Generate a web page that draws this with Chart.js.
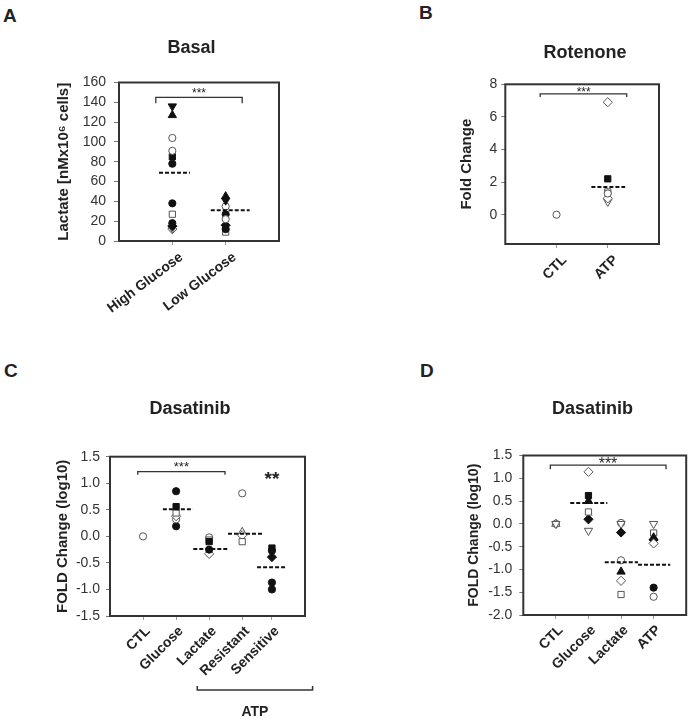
<!DOCTYPE html>
<html>
<head>
<meta charset="utf-8">
<script src="https://cdn.jsdelivr.net/npm/chart.js@4.4.1/dist/chart.umd.min.js"></script>
<style>
  body { margin: 0; background: #fff; }
  #page { position: relative; width: 692px; height: 726px; overflow: hidden; }
  .panel { position: absolute; }
  .letter { position: absolute; font: bold 19px "Liberation Sans", Arial, sans-serif; line-height: 1; color: #222; }
</style>
</head>
<body>
<div id="page">
  <div class="letter" style="left:3px;top:6px">A</div>
  <div class="letter" style="left:419px;top:3px">B</div>
  <div class="letter" style="left:4px;top:361px">C</div>
  <div class="letter" style="left:420px;top:361px">D</div>
  <div class="panel" style="left:0;top:0;width:346px;height:363px"><canvas id="chartA"></canvas></div>
  <div class="panel" style="left:380px;top:0;width:312px;height:363px"><canvas id="chartB"></canvas></div>
  <div class="panel" style="left:0;top:363px;width:346px;height:363px"><canvas id="chartC"></canvas></div>
  <div class="panel" style="left:380px;top:363px;width:312px;height:363px"><canvas id="chartD"></canvas></div>
</div>
<script>
const FONT = '"Liberation Sans", Arial, sans-serif';

// ---- A: Basal lactate ----
const basalLabels = ['High Glucose', 'Low Glucose'];
const basalPos = [1, 2];
const basalTicks = [0, 20, 40, 60, 80, 100, 120, 140, 160];
const basalMeans = [69, 31];
const basalMeanSpan = [[0.75, 1.33], [1.72, 2.45]];
// one series per cell line (marker), one value per condition
const basalFilledDown = [136, 41];
const basalFilledUp = [127, 45];
const basalOpenCircle1 = [104, 35];
const basalOpenCircle2 = [91, 22];
const basalFilledSquare = [85, null];
const basalFilledCircle1 = [78, 27];
const basalFilledCircle2 = [38, 12];
const basalOpenSquare = [27, 9];
const basalFilledCircle3 = [18, null];
const basalFilledDiamond = [15, 16];
const basalOpenDown = [13, null];
const basalOpenDiamond = [12, null];

// ---- B: Rotenone ----
const rotLabels = ['CTL', 'ATP'];
const rotPos = [1, 2];
const rotTicks = [0, 2, 4, 6, 8];
const rotMeans = [null, 1.7];
const rotMeanSpan = [null, [1.68, 2.34]];
const rotOpenCircle = [0, 1.3];
const rotOpenDiamond1 = [null, 6.9];
const rotFilledSquare = [null, 2.2];
const rotOpenSquare = [null, 1.4];
const rotOpenDiamond2 = [null, 1.0];
const rotOpenDown = [null, 0.8];

// ---- C: Dasatinib (ATP resistant / sensitive) ----
const dasCLabels = ['CTL', 'Glucose', 'Lactate', 'Resistant', 'Sensitive'];
const dasCPos = [1, 2, 3, 4, 4.9];
const dasCTicks = [-1.5, -1.0, -0.5, 0, 0.5, 1.0, 1.5];
const dasCMeans = [null, 0.51, -0.24, 0.05, -0.58];
const dasCMeanSpan = [null, [1.6, 2.51], [2.52, 3.58], [3.57, 4.65], [4.45, 5.35]];
const dasCFilledCircle1 = [null, 0.85, -0.25, null, -0.27];
const dasCFilledSquare = [null, 0.56, -0.1, null, -0.22];
const dasCOpenSquare = [null, 0.44, -0.07, -0.1, null];
const dasCOpenDiamond = [null, 0.38, -0.33, 0.02, null];
const dasCOpenCircle = [0, 0.32, -0.02, 0.81, null];
const dasCOpenUp = [null, null, null, 0.08, null];
const dasCFilledCircle2 = [null, 0.19, null, null, -0.87];
const dasCFilledDiamond = [null, null, null, null, -0.39];
const dasCFilledCircle3 = [null, null, null, null, -1.0];

// ---- D: Dasatinib ----
const dasDLabels = ['CTL', 'Glucose', 'Lactate', 'ATP'];
const dasDPos = [1, 2, 3, 4];
const dasDTicks = [-2.0, -1.5, -1.0, -0.5, 0, 0.5, 1.0, 1.5];
const dasDMeans = [null, 0.46, -0.84, -0.9];
const dasDMeanSpan = [null, [1.44, 2.58], [2.5, 3.52], [3.52, 4.51]];
const dasDOpenDiamond = [null, 1.14, -1.25, -0.43];
const dasDFilledSquare = [null, 0.62, null, null];
const dasDFilledUp = [null, 0.5, -1.05, -0.3];
const dasDOpenSquare = [null, 0.26, -1.55, -0.2];
const dasDFilledDiamond = [null, 0.1, -0.19, -0.35];
const dasDOpenDown = [0, -0.15, 0, 0];
const dasDOpenUp = [0, null, null, null];
const dasDOpenCircle = [0, null, 0.02, -1.6];
const dasDOpenCircle2 = [null, null, -0.8, null];
const dasDFilledCircle = [null, null, null, -1.4];

// marker looks
const markers = {
  filledCircle: { pointStyle: 'circle', rotation: 0, fill: true, r: 3.6 },
  openCircle: { pointStyle: 'circle', rotation: 0, fill: false, r: 3.6 },
  filledSquare: { pointStyle: 'rect', rotation: 0, fill: true, r: 4.4 },
  openSquare: { pointStyle: 'rect', rotation: 0, fill: false, r: 4.4 },
  filledUp: { pointStyle: 'triangle', rotation: 0, fill: true, r: 4.8 },
  openUp: { pointStyle: 'triangle', rotation: 0, fill: false, r: 4.8 },
  filledDown: { pointStyle: 'triangle', rotation: 180, fill: true, r: 4.8 },
  openDown: { pointStyle: 'triangle', rotation: 180, fill: false, r: 4.8 },
  filledDiamond: { pointStyle: 'rectRot', rotation: 0, fill: true, r: 4.6 },
  openDiamond: { pointStyle: 'rectRot', rotation: 0, fill: false, r: 4.6 }
};

function seriesDataset(values, pos, kind) {
  const m = markers[kind];
  return {
    data: values.map((v, i) => v == null ? null : { x: pos[i], y: v }).filter(Boolean),
    pointStyle: m.pointStyle,
    rotation: m.rotation,
    pointRadius: m.r,
    backgroundColor: m.fill ? '#111' : '#fff',
    borderColor: m.fill ? '#111' : '#555',
    borderWidth: 1,
    showLine: false
  };
}

function meanDatasets(means, spans) {
  const out = [];
  means.forEach((m, i) => {
    if (m == null) return;
    out.push({
      data: [{ x: spans[i][0], y: m }, { x: spans[i][1], y: m }],
      showLine: true, pointRadius: 0, borderColor: '#111', borderWidth: 2,
      borderDash: [4, 2]
    });
  });
  return out;
}

function bracketDataset(x1, x2, yTop, yEnd) {
  return {
    data: [{ x: x1, y: yEnd }, { x: x1, y: yTop }, { x: x2, y: yTop }, { x: x2, y: yEnd }],
    showLine: true, pointRadius: 0, borderColor: '#333', borderWidth: 1.3
  };
}

// frame, titles, asterisks and the group bracket under panel C
const panelNotes = {
  id: 'panelNotes',
  afterDatasetsDraw(chart, args, opts) {
    const { ctx, chartArea: a, scales: { x, y } } = chart;
    ctx.save();
    ctx.strokeStyle = '#333';
    ctx.lineWidth = 2;
    ctx.strokeRect(a.left, a.top, a.right - a.left, a.bottom - a.top);

    ctx.fillStyle = '#222';
    ctx.textAlign = 'center';
    ctx.textBaseline = 'middle';
    ctx.font = 'bold 18px ' + FONT;
    ctx.fillText(opts.title, opts.titleX, opts.titleY);

    (opts.stars || []).forEach(s => {
      ctx.font = s.font;
      ctx.textBaseline = 'alphabetic';
      ctx.fillText(s.text, x.getPixelForValue(s.x), y.getPixelForValue(s.y) + 0.56 * s.size);
    });

    if (opts.group) {
      const g = opts.group;
      const x1 = x.getPixelForValue(g.x1), x2 = x.getPixelForValue(g.x2);
      const gy = a.bottom + g.offset;
      ctx.lineWidth = 1.5;
      ctx.beginPath();
      ctx.moveTo(x1, gy - 4); ctx.lineTo(x1, gy); ctx.lineTo(x2, gy); ctx.lineTo(x2, gy - 4);
      ctx.stroke();
      ctx.font = 'bold 14px ' + FONT;
      ctx.textBaseline = 'middle';
      ctx.fillText(g.text, (x1 + x2) / 2, gy + g.textOffset);
    }
    ctx.restore();
  }
};

function makeChart(id, p) {
  const datasets = [
    ...meanDatasets(p.means, p.meanSpan),
    bracketDataset(...p.bracket),
    ...p.series.map(s => seriesDataset(s[0], p.pos, s[1]))
  ];
  return new Chart(document.getElementById(id), {
    type: 'scatter',
    data: { datasets },
    options: {
      responsive: true,
      maintainAspectRatio: false,
      animation: false,
      events: [],
      layout: { padding: { top: p.area.top, right: p.area.right, left: 0, bottom: 0 } },
      plugins: {
        legend: { display: false },
        tooltip: { enabled: false },
        panelNotes: p.notes
      },
      scales: {
        x: {
          type: 'linear',
          min: 0,
          max: p.xMax,
          afterBuildTicks: s => { s.ticks = p.pos.map(v => ({ value: v })); },
          afterFit: s => { s.height = p.area.bottom; },
          grid: { display: true, drawOnChartArea: false, tickLength: 4, color: '#999' },
          border: { display: false },
          ticks: {
            autoSkip: false, minRotation: p.xLab[2], maxRotation: p.xLab[2], padding: p.xLab[1],
            labelOffset: p.xLab[0],
            color: '#222', font: { family: FONT, size: 14, weight: 'bold' },
            callback: (v, i) => p.labels[i]
          }
        },
        y: {
          min: p.yMin,
          max: p.yMax,
          afterBuildTicks: s => { s.ticks = p.ticks.map(v => ({ value: v })); },
          afterFit: s => { s.width = p.area.left; },
          grid: { display: true, drawOnChartArea: false, tickLength: p.tick[0], color: '#777' },
          border: { display: false },
          ticks: {
            padding: p.tick[1], color: '#333',
            font: { family: FONT, size: 14 },
            callback: v => p.decimals ? v.toFixed(1) : String(v)
          },
          title: {
            display: true, text: p.yTitle, color: '#222',
            font: { family: FONT, size: p.yTitleSize, weight: 'bold' },
            padding: { top: p.yTitlePad, bottom: 0 }
          }
        }
      }
    },
    plugins: [panelNotes]
  });
}

makeChart('chartA', {
  labels: basalLabels, pos: basalPos, ticks: basalTicks, xMax: 3, yMin: 0, yMax: 160,
  means: basalMeans, meanSpan: basalMeanSpan,
  bracket: [0.69, 2.31, 145, 139],
  series: [
    [basalFilledDown, 'filledDown'], [basalFilledUp, 'filledUp'],
    [basalOpenCircle1, 'openCircle'], [basalOpenCircle2, 'openCircle'],
    [basalFilledSquare, 'filledSquare'], [basalFilledCircle1, 'filledCircle'],
    [basalFilledCircle2, 'filledCircle'], [basalOpenSquare, 'openSquare'],
    [basalFilledCircle3, 'filledCircle'], [basalFilledDiamond, 'filledDiamond'],
    [basalOpenDown, 'openDown'], [basalOpenDiamond, 'openDiamond']
  ],
  area: { left: 119, top: 82.5, right: 67, bottom: 122 },
  tick: [5, 8], xLab: [9, 4, 37], decimals: false,
  yTitle: 'Lactate [nMx10\u2076 cells]', yTitleSize: 15, yTitlePad: 54.5,
  notes: {
    title: 'Basal', titleX: 191.5, titleY: 48,
    stars: [{ text: '***', x: 1.5, y: 152, size: 12, font: '12px ' + FONT }]
  }
});

makeChart('chartB', {
  labels: rotLabels, pos: rotPos, ticks: rotTicks, xMax: 3, yMin: -1.8, yMax: 8,
  means: rotMeans, meanSpan: rotMeanSpan,
  bracket: [0.68, 2.37, 7.41, 7.22],
  series: [
    [rotOpenCircle, 'openCircle'], [rotOpenDiamond1, 'openDiamond'],
    [rotFilledSquare, 'filledSquare'], [rotOpenSquare, 'openSquare'],
    [rotOpenDiamond2, 'openDiamond'], [rotOpenDown, 'openDown']
  ],
  area: { left: 125.3, top: 84.3, right: 33, bottom: 119 },
  tick: [4, 4], xLab: [8, 4, 45], decimals: false,
  yTitle: 'Fold Change', yTitleSize: 15, yTitlePad: 78.3,
  notes: {
    title: 'Rotenone', titleX: 205, titleY: 53,
    stars: [{ text: '***', x: 1.53, y: 7.71, size: 12, font: '12px ' + FONT }]
  }
});

makeChart('chartC', {
  labels: dasCLabels, pos: dasCPos, ticks: dasCTicks, xMax: 5.9, yMin: -1.5, yMax: 1.5,
  means: dasCMeans, meanSpan: dasCMeanSpan,
  bracket: [0.84, 3.48, 1.22, 1.16],
  series: [
    [dasCFilledCircle1, 'filledCircle'], [dasCFilledSquare, 'filledSquare'],
    [dasCOpenSquare, 'openSquare'], [dasCOpenDiamond, 'openDiamond'],
    [dasCOpenCircle, 'openCircle'], [dasCOpenUp, 'openUp'],
    [dasCFilledCircle2, 'filledCircle'], [dasCFilledDiamond, 'filledDiamond'],
    [dasCFilledCircle3, 'filledCircle']
  ],
  area: { left: 110, top: 93.7, right: 41, bottom: 110 },
  tick: [4, 6], xLab: [5, 3, 45], decimals: true,
  yTitle: 'FOLD Change (log10)', yTitleSize: 15, yTitlePad: 54,
  notes: {
    title: 'Dasatinib', titleX: 190, titleY: 46,
    stars: [
      { text: '***', x: 2.16, y: 1.36, size: 13, font: '13px ' + FONT },
      { text: '**', x: 4.9, y: 1.17, size: 19, font: 'bold 19px ' + FONT }
    ],
    group: { x1: 2.64, x2: 6.13, offset: 74, textOffset: 22, text: 'ATP' }
  }
});

makeChart('chartD', {
  labels: dasDLabels, pos: dasDPos, ticks: dasDTicks, xMax: 5, yMin: -2, yMax: 1.5,
  means: dasDMeans, meanSpan: dasDMeanSpan,
  bracket: [0.83, 4.38, 1.29, 1.2],
  series: [
    [dasDOpenDiamond, 'openDiamond'], [dasDFilledSquare, 'filledSquare'],
    [dasDFilledUp, 'filledUp'], [dasDOpenSquare, 'openSquare'],
    [dasDFilledDiamond, 'filledDiamond'], [dasDOpenDown, 'openDown'],
    [dasDOpenUp, 'openUp'], [dasDOpenCircle, 'openCircle'],
    [dasDOpenCircle2, 'openCircle'], [dasDFilledCircle, 'filledCircle']
  ],
  area: { left: 143.3, top: 92.5, right: 4.3, bottom: 111 },
  tick: [4, 7], xLab: [5, 3, 45], decimals: true,
  yTitle: 'FOLD Change (log10)', yTitleSize: 14, yTitlePad: 85.6,
  notes: {
    title: 'Dasatinib', titleX: 212.5, titleY: 46,
    stars: [{ text: '***', x: 2.6, y: 1.4, size: 16, font: '16px ' + FONT }]
  }
});
</script>
</body>
</html>
